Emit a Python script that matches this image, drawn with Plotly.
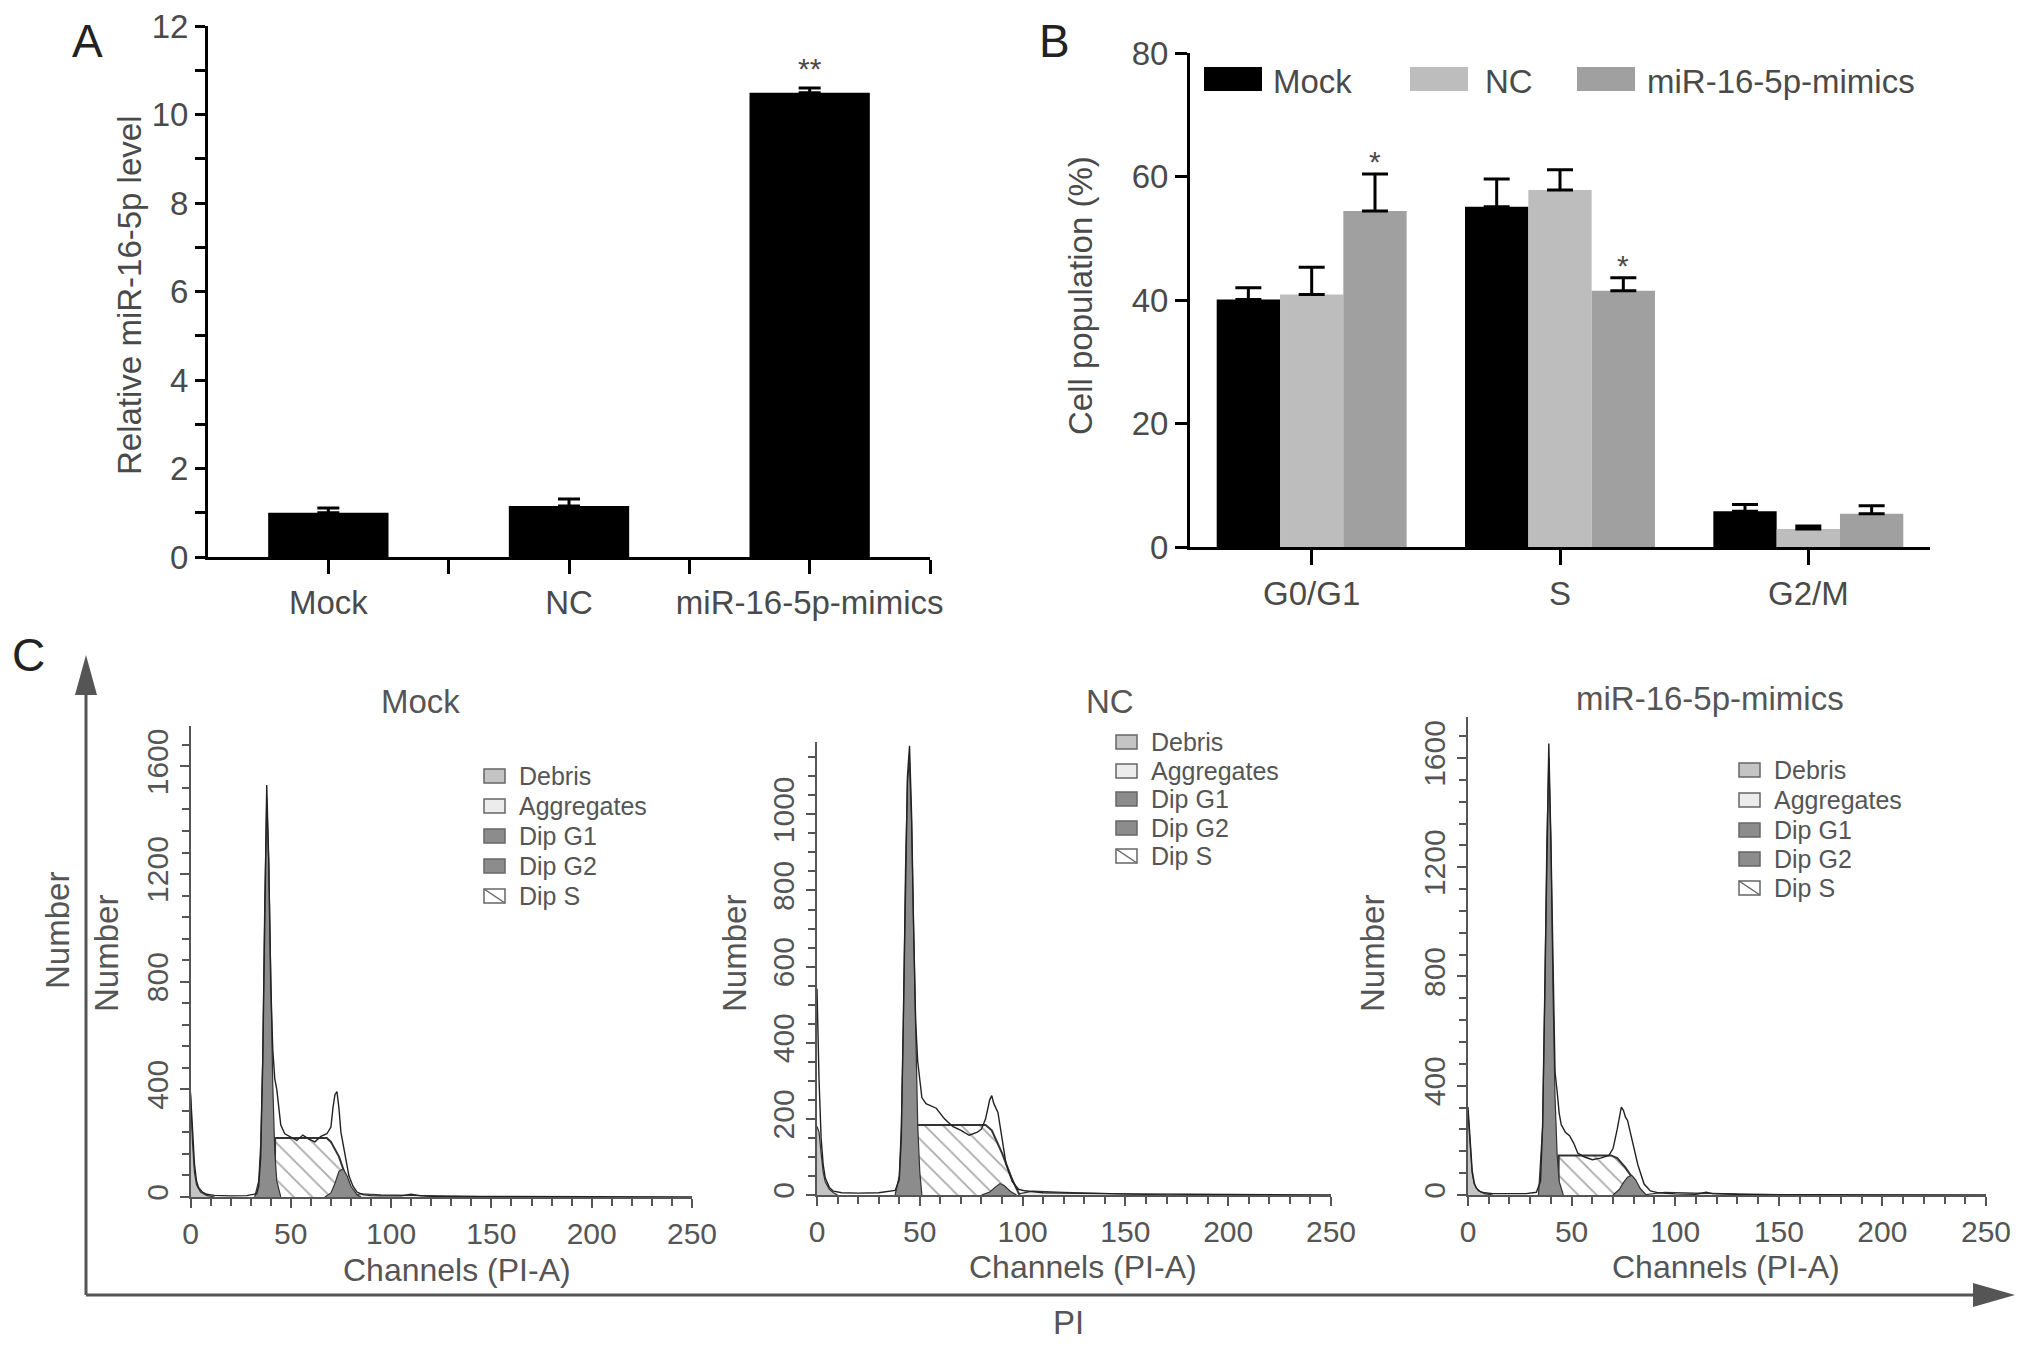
import plotly.graph_objects as go

W, H = 2032, 1347
SANS = "Liberation Sans, Arial, Helvetica, sans-serif"
INK = "#4a4a4a"
GREY = "#555555"

# ---- A: relative miR-16-5p level
a_groups = ["Mock", "NC", "miR-16-5p-mimics"]
a_values = [1.0, 1.15, 10.49]
a_errors = [0.11, 0.16, 0.11]

# ---- B: cell cycle distribution (%)
b_phases = ["G0/G1", "S", "G2/M"]
b_series = ["Mock", "NC", "miR-16-5p-mimics"]
b_mock = [40.1, 55.1, 5.8]
b_mock_err = [1.9, 4.5, 1.1]
b_nc = [40.9, 57.8, 2.9]
b_nc_err = [4.4, 3.3, 0.5]
b_mimics = [54.4, 41.5, 5.4]
b_mimics_err = [6.0, 2.1, 1.3]
b_colors = ["#000000", "#bdbdbd", "#a0a0a0"]

# ---- C: PI histograms (channel, count)
hist_titles = ["Mock", "NC", "miR-16-5p-mimics"]
legend_labels = ["Debris", "Aggregates", "Dip G1", "Dip G2", "Dip S"]

mock_raw_ch = [0, 1, 2, 3, 4, 6, 8, 12, 20, 28, 33, 34, 35, 36, 37, 38, 39, 40, 41, 42,
               43, 44, 45, 47, 50, 53, 56, 59, 62, 65, 68, 70, 71, 72, 73, 74, 75, 76, 77, 78,
               79, 81, 83, 86, 90, 95, 100, 105, 110, 112, 115, 120, 140, 160, 200, 250]
mock_raw_n = [388, 250, 120, 60, 35, 18, 10, 6, 4, 5, 12, 40, 150, 500, 1100, 1531, 1250, 800, 550, 440,
              400, 330, 267, 235, 224, 210, 230, 215, 205, 225, 235, 260, 330, 380, 392, 330, 240, 200, 160, 110,
              78, 40, 18, 9, 5, 4, 3, 4, 10, 8, 4, 3, 2, 1, 1, 0]
mock_debris_ch = [0, 1, 2, 3, 5, 8, 12]
mock_debris_n = [380, 200, 90, 45, 18, 6, 0]
mock_g1_ch = [32, 34, 35, 36, 37, 38, 39, 40, 41, 42, 43, 45]
mock_g1_n = [0, 60, 200, 520, 1100, 1480, 1250, 820, 420, 170, 60, 0]
mock_s_ch = [42, 42.2, 68, 70, 74, 78, 81]
mock_s_n = [0, 219, 219, 205, 150, 60, 0]
mock_g2_ch = [67, 70, 72, 74, 76, 78, 80, 83, 85]
mock_g2_n = [0, 15, 50, 95, 105, 80, 40, 8, 0]
mock_agg_ch = [78, 85, 95, 110, 130, 160]
mock_agg_n = [0, 12, 8, 6, 3, 0]
mock_peaks = [38.5, 74]

nc_raw_ch = [0, 1, 2, 3, 4, 6, 8, 12, 20, 30, 38, 40, 41, 42, 43, 44, 45, 46, 47, 48,
             49, 50, 51, 53, 55, 58, 62, 66, 70, 74, 78, 80, 82, 84, 85, 86, 88, 90, 92, 95,
             98, 101, 105, 110, 120, 130, 150, 180, 250]
nc_raw_n = [542, 300, 150, 80, 45, 20, 10, 6, 5, 6, 12, 40, 150, 450, 850, 1100, 1180, 1000, 700, 454,
            350, 300, 256, 240, 235, 228, 200, 180, 170, 157, 165, 173, 200, 250, 261, 240, 217, 150, 80, 35,
            15, 11, 8, 6, 5, 4, 3, 2, 0]
nc_debris_ch = [0, 1, 2, 3, 4, 6, 8, 10]
nc_debris_n = [180, 165, 110, 60, 35, 15, 6, 0]
nc_g1_ch = [38, 40, 41, 42, 43, 44, 45, 46, 47, 48, 49, 50, 51]
nc_g1_n = [0, 50, 180, 450, 850, 1090, 1138, 980, 700, 400, 180, 60, 0]
nc_s_ch = [48.5, 48.7, 82, 85, 90, 95, 98.5]
nc_s_n = [0, 184, 184, 170, 110, 40, 0]
nc_g2_ch = [80, 84, 87, 89, 91, 94, 97]
nc_g2_n = [0, 8, 22, 30, 25, 10, 0]
nc_agg_ch = [95, 105, 120, 140, 170]
nc_agg_n = [0, 10, 7, 4, 0]
nc_peaks = [44]

mim_raw_ch = [0, 1, 2, 3, 4, 6, 8, 12, 20, 28, 33, 35, 36, 37, 38, 39, 40, 41, 42, 43,
              44, 45, 47, 49, 51, 53, 56, 60, 64, 68, 70, 72, 73, 74, 75, 76, 77, 78, 80, 82,
              85, 88, 92, 100, 110, 115, 118, 130, 160, 250]
mim_raw_n = [322, 200, 90, 45, 25, 12, 8, 5, 4, 5, 10, 50, 250, 700, 1300, 1653, 1300, 800, 450, 380,
             300, 257, 230, 217, 190, 153, 140, 129, 135, 145, 170, 240, 290, 322, 310, 285, 273, 240, 177, 110,
             40, 15, 8, 4, 3, 10, 5, 2, 1, 0]
mim_debris_ch = [0, 1, 2, 3, 5, 8, 12]
mim_debris_n = [300, 180, 80, 40, 15, 5, 0]
mim_g1_ch = [34, 36, 37, 38, 39, 40, 41, 42, 43, 44, 46]
mim_g1_n = [0, 250, 700, 1280, 1600, 1300, 760, 360, 150, 50, 0]
mim_s_ch = [43.6, 43.8, 69, 72, 76, 80, 85]
mim_s_n = [0, 145, 145, 135, 100, 55, 0]
mim_g2_ch = [70, 73, 75, 77, 79, 81, 83, 86]
mim_g2_n = [0, 20, 45, 65, 72, 55, 25, 0]
mim_agg_ch = [84, 95, 110, 130, 160]
mim_agg_n = [0, 10, 7, 4, 0]
mim_peaks = [38.5, 76]


def px(x):
    return x / W


def py(y):
    return 1 - y / H


fig = go.Figure()
shapes = []
notes = []


def note(text, x, y, size, color=GREY, **kw):
    d = dict(text=text, x=px(x), y=py(y), xref="paper", yref="paper", showarrow=False,
             xanchor="center", yanchor="middle", font=dict(family=SANS, size=size, color=color))
    d.update(kw)
    notes.append(d)


# panel A
fig.add_trace(go.Bar(
    x=list(range(len(a_groups))), y=a_values, width=0.5, marker=dict(color="black", line_width=0),
    error_y=dict(type="data", array=a_errors, arrayminus=[0] * len(a_errors), symmetric=False,
                 color="black", thickness=3, width=11),
    xaxis="x", yaxis="y", showlegend=False))
notes.append(dict(text="**", x=2, y=a_values[2] + a_errors[2] + 0.45, xref="x", yref="y",
                  showarrow=False, xanchor="center", yanchor="middle",
                  font=dict(family=SANS, size=30, color=INK)))

# panel B
for name, vals, errs, col in zip(b_series, [b_mock, b_nc, b_mimics],
                                 [b_mock_err, b_nc_err, b_mimics_err], b_colors):
    fig.add_trace(go.Bar(
        x=list(range(len(b_phases))), y=vals, name=name, marker=dict(color=col, line_width=0),
        error_y=dict(type="data", array=errs, arrayminus=[0] * len(errs), symmetric=False,
                     color="black", thickness=3, width=13),
        xaxis="x2", yaxis="y2", showlegend=False))
for i in [0, 1]:
    notes.append(dict(text="*", x=i + 0.255, y=b_mimics[i] + b_mimics_err[i] + 2.0, xref="x2", yref="y2",
                      showarrow=False, xanchor="center", yanchor="middle",
                      font=dict(family=SANS, size=30, color=INK)))

# panel C
samples = [
    (mock_raw_ch, mock_raw_n, (mock_debris_ch, mock_debris_n), (mock_g1_ch, mock_g1_n),
     (mock_s_ch, mock_s_n), (mock_g2_ch, mock_g2_n), (mock_agg_ch, mock_agg_n), mock_peaks),
    (nc_raw_ch, nc_raw_n, (nc_debris_ch, nc_debris_n), (nc_g1_ch, nc_g1_n),
     (nc_s_ch, nc_s_n), (nc_g2_ch, nc_g2_n), (nc_agg_ch, nc_agg_n), nc_peaks),
    (mim_raw_ch, mim_raw_n, (mim_debris_ch, mim_debris_n), (mim_g1_ch, mim_g1_n),
     (mim_s_ch, mim_s_n), (mim_g2_ch, mim_g2_n), (mim_agg_ch, mim_agg_n), mim_peaks),
]
# x px span, y px (bottom, top), y max, major, minor, triangle drop
hist_geom = [
    (190.5, 692, 1197, 726, 1750, 400, 80, -42),
    (817, 1331, 1195, 742, 1190, 200, 50, -30),
    (1468, 1986, 1195, 717, 1750, 400, 80, -41),
]

for k, (smp, geo) in enumerate(zip(samples, hist_geom)):
    n = k + 3
    xa, ya = f"x{n}", f"y{n}"
    raw_ch, raw_n, deb, g1, s, g2, agg, peaks = smp
    x0, x1, yb, yt, ymax, ydt, ymin, drop = geo
    for (ch, cnt), col, pat in [(agg, "#e8e8e8", None), (deb, "#c4c4c4", None), (s, "white", "\\"),
                                (g1, "#8c8c8c", None), (g2, "#8c8c8c", None)]:
        kw = dict(fillcolor=col)
        lw = 1.2
        if pat:
            kw = dict(fillpattern=dict(shape=pat, fgcolor="#555555", bgcolor="white", size=13, solidity=0.14))
            lw = 2
        fig.add_trace(go.Scatter(x=ch, y=cnt, xaxis=xa, yaxis=ya, mode="lines", fill="tozeroy",
                                 line=dict(color="#333333", width=lw), showlegend=False, hoverinfo="skip", **kw))
    fig.add_trace(go.Scatter(x=raw_ch, y=raw_n, xaxis=xa, yaxis=ya, mode="lines",
                             line=dict(color="#222222", width=1.4), showlegend=False))
    fig.add_trace(go.Scatter(x=peaks, y=[drop] * len(peaks), xaxis=xa, yaxis=ya, mode="markers",
                             marker=dict(symbol="triangle-up", size=17, color="black"),
                             cliponaxis=False, showlegend=False))
    common = dict(showline=True, linecolor=GREY, linewidth=2, ticks="outside", tickcolor=GREY,
                  tickwidth=2, ticklen=9, showgrid=False, zeroline=False, automargin=False,
                  tickfont=dict(family=SANS, size=30, color=GREY))
    fig.update_layout({
        f"xaxis{n}": dict(domain=[px(x0), px(x1)], range=[0, 250], anchor=ya, dtick=50,
                          minor=dict(dtick=10, ticks="outside", ticklen=7, tickcolor=GREY, tickwidth=1.5),
                          **common),
        f"yaxis{n}": dict(domain=[py(yb), py(yt)], range=[0, ymax], anchor=xa, dtick=ydt, tickangle=-90,
                          minor=dict(dtick=ymin, ticks="outside", ticklen=7, tickcolor=GREY, tickwidth=1.5),
                          **common),
    })

# histogram titles, axis titles
for title, tx, ty in zip(hist_titles, [420, 1110, 1710], [701, 701, 698]):
    note(title, tx, ty, 33)
for cx, cy in [(457, 1270), (1083, 1267), (1726, 1267)]:
    note("Channels (PI-A)", cx, cy, 32)
for nx in [106, 734, 1372]:
    note("Number", nx, 954, 33, textangle=-90)

# histogram legends
leg_geom = [(484, [776, 806, 836, 866, 896]), (1116, [742, 771, 799, 828, 856]),
            (1739, [770, 800, 830, 859, 888])]
leg_fills = ["#c4c4c4", "#ececec", "#8c8c8c", "#8c8c8c", "white"]
for bx, rows in leg_geom:
    for lab, col, ry in zip(legend_labels, leg_fills, rows):
        shapes.append(dict(type="rect", xref="paper", yref="paper", x0=px(bx), x1=px(bx + 21),
                           y0=py(ry + 7), y1=py(ry - 7), fillcolor=col, line=dict(color="#666666", width=1.5)))
        if lab == "Dip S":
            shapes.append(dict(type="line", xref="paper", yref="paper", x0=px(bx), x1=px(bx + 21),
                               y0=py(ry - 7), y1=py(ry + 7), line=dict(color="#666666", width=1.5)))
        note(lab, bx + 33, ry, 25, xanchor="left")

# B legend
for lab, col, sx, tx in zip(b_series, b_colors, [1204, 1410, 1577], [1271, 1483, 1645]):
    shapes.append(dict(type="rect", xref="paper", yref="paper", x0=px(sx), x1=px(sx + 58),
                       y0=py(91), y1=py(67), fillcolor=col, line_width=0))
    note(lab, tx, 81, 33, color=INK, xanchor="left")

# big PI / Number arrows
shapes.append(dict(type="line", xref="paper", yref="paper", x0=px(86), x1=px(86), y0=py(1295), y1=py(690),
                   line=dict(color=GREY, width=3)))
shapes.append(dict(type="path", xref="paper", yref="paper", fillcolor=GREY, line_width=0,
                   path=f"M {px(86)},{py(655)} L {px(75)},{py(695)} L {px(97)},{py(695)} Z"))
shapes.append(dict(type="line", xref="paper", yref="paper", x0=px(86), x1=px(1980), y0=py(1295), y1=py(1295),
                   line=dict(color=GREY, width=3)))
shapes.append(dict(type="path", xref="paper", yref="paper", fillcolor=GREY, line_width=0,
                   path=f"M {px(2015)},{py(1295)} L {px(1973)},{py(1283)} L {px(1973)},{py(1307)} Z"))

note("Number", 57, 931, 33, textangle=-90)
note("PI", 1068, 1322, 33)

# panel letters
note("A", 87, 41, 46, color="#222222")
note("B", 1054, 41, 46, color="#222222")
note("C", 28, 655, 46, color="#222222")

# A / B axis titles
note("Relative miR-16-5p level", 130, 296, 33, color=INK, textangle=-90)
note("Cell population (%)", 1081, 296, 33, color=INK, textangle=-90)

axis_ab = dict(showline=True, linecolor="black", linewidth=3, ticks="outside", tickcolor="black",
               tickwidth=3, showgrid=False, zeroline=False, automargin=False,
               tickfont=dict(family=SANS, size=33, color=INK))

fig.update_layout(
    width=W, height=H, margin=dict(l=0, r=0, t=0, b=0),
    paper_bgcolor="white", plot_bgcolor="white",
    barmode="group", bargap=0.235, bargroupgap=0,
    xaxis=dict(domain=[px(208), px(930)], range=[-0.5, 2.5], anchor="y",
               tickmode="array", tickvals=[0, 0.5, 1, 1.5, 2, 2.5],
               ticktext=[a_groups[0], "", a_groups[1], "", a_groups[2], ""], ticklen=14, **axis_ab),
    yaxis=dict(domain=[py(557), py(26)], range=[0, 12], anchor="x", dtick=2, ticklen=10,
               minor=dict(dtick=1, ticks="outside", ticklen=10, tickcolor="black", tickwidth=3), **axis_ab),
    xaxis2=dict(domain=[px(1190), px(1930)], range=[-0.49, 2.49], anchor="y2",
                tickmode="array", tickvals=[0, 1, 2], ticktext=b_phases, ticklen=15, **axis_ab),
    yaxis2=dict(domain=[py(547), py(53)], range=[0, 80], anchor="x2", dtick=20, ticklen=12, **axis_ab),
    shapes=shapes, annotations=notes,
)

fig.write_html("out.html", config={"displayModeBar": False},
               post_script="document.body.style.margin='0';document.documentElement.style.overflow='hidden';")
